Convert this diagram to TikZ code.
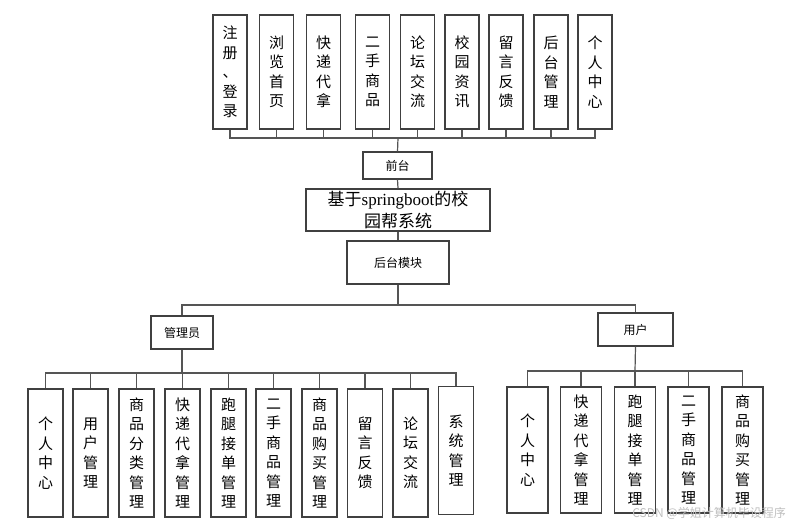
\documentclass[tikz,border=0pt]{standalone}
\usepackage{fontspec}
\setmainfont{Noto Sans CJK SC}
\newfontfamily\ltserif{Liberation Serif}
\definecolor{boxc}{HTML}{404040}
\definecolor{linec}{HTML}{555555}
\begin{document}
\begin{tikzpicture}[x=1pt,y=-1pt,
  vbox/.style={draw=boxc, line width=1.3pt, fill=white, inner sep=0pt, align=center,
    font=\fontsize{15}{19.5}\selectfont},
  topbox/.style={vbox, minimum width=34pt, minimum height=114pt},
  admbox/.style={vbox, minimum width=35pt, minimum height=128pt},
  usrbox/.style={vbox, minimum width=41pt, minimum height=126pt},
  lbl/.style={draw=boxc, line width=1.3pt, fill=white, inner sep=0pt, align=center,
    font=\fontsize{12}{14}\selectfont},
  conn/.style={draw=linec, line width=1.2pt}]
\useasboundingbox (0,0) rectangle (792,527);
% top row
\node[topbox] (t1) at (230,72) {注\\册\\、\\登\\录};
\node[topbox] (t2) at (276.5,72) {浏\\览\\首\\页};
\node[topbox] (t3) at (323.5,72) {快\\递\\代\\拿};
\node[topbox] (t4) at (372.5,72) {二\\手\\商\\品};
\node[topbox] (t5) at (417.5,72) {论\\坛\\交\\流};
\node[topbox] (t6) at (462,72) {校\\园\\资\\讯};
\node[topbox] (t7) at (506,72) {留\\言\\反\\馈};
\node[topbox] (t8) at (551,72) {后\\台\\管\\理};
\node[topbox] (t9) at (595,72) {个\\人\\中\\心};
% middle column
\node[lbl, minimum width=69pt, minimum height=27pt] (qt) at (397.5,165.5) {前台};
\node[draw=boxc, line width=1.3pt, fill=white, inner sep=0pt, align=center,
  minimum width=184pt, minimum height=42pt, font=\fontsize{17}{22}\selectfont]
  (title) at (398,210) {基于{\ltserif springboot}的校\\园帮系统};
\node[lbl, minimum width=102pt, minimum height=43pt] (ht) at (398,262.5) {后台模块};
\node[lbl, minimum width=62pt, minimum height=33pt] (adm) at (182,332.5) {管理员};
\node[lbl, minimum width=75pt, minimum height=33pt] (usr) at (635.5,329.5) {用户};
% admin children
\node[admbox] (a1) at (45.5,453) {个\\人\\中\\心};
\node[admbox] (a2) at (90.5,453) {用\\户\\管\\理};
\node[admbox] (a3) at (136.5,453) {商\\品\\分\\类\\管\\理};
\node[admbox] (a4) at (182.5,453) {快\\递\\代\\拿\\管\\理};
\node[admbox] (a5) at (228.5,453) {跑\\腿\\接\\单\\管\\理};
\node[admbox] (a6) at (273.5,453) {二\\手\\商\\品\\管\\理};
\node[admbox] (a7) at (319.5,453) {商\\品\\购\\买\\管\\理};
\node[admbox] (a8) at (365,453) {留\\言\\反\\馈};
\node[admbox] (a9) at (410.5,453) {论\\坛\\交\\流};
\node[admbox] (a10) at (456,450.5) {系\\统\\管\\理};
% user children
\node[usrbox] (u1) at (527.5,450) {个\\人\\中\\心};
\node[usrbox] (u2) at (581,450) {快\\递\\代\\拿\\管\\理};
\node[usrbox] (u3) at (635,450) {跑\\腿\\接\\单\\管\\理};
\node[usrbox] (u4) at (688.5,450) {二\\手\\商\\品\\管\\理};
\node[usrbox] (u5) at (742.5,450) {商\\品\\购\\买\\管\\理};
% bus coordinates
\coordinate (topbus) at (398,138);
\coordinate (mbus) at (398,305);
\coordinate (abus) at (182,373);
\coordinate (ubus) at (635,371);
% connectors
\foreach \i in {1,...,9} { \draw[conn] (t\i.south) |- (topbus); }
\draw[conn] (topbus) -- (qt.north);
\draw[conn] (qt.south) -- (title.north);
\draw[conn] (title.south) -- (ht.north);
\draw[conn] (ht.south) -- (mbus);
\draw[conn] (mbus) -| (adm.north);
\draw[conn] (mbus) -| (usr.north);
\draw[conn] (adm.south) -- (abus);
\foreach \i in {1,...,10} { \draw[conn] (abus) -| (a\i.north); }
\draw[conn] (usr.south) -- (ubus);
\foreach \i in {1,...,5} { \draw[conn] (ubus) -| (u\i.north); }
% watermark
\node[text=black!25, font=\fontsize{12}{14}\selectfont, anchor=east, inner sep=0pt] (wm) at (786,513) {CSDN @学姐计算机毕设程序};
\end{tikzpicture}
\end{document}
